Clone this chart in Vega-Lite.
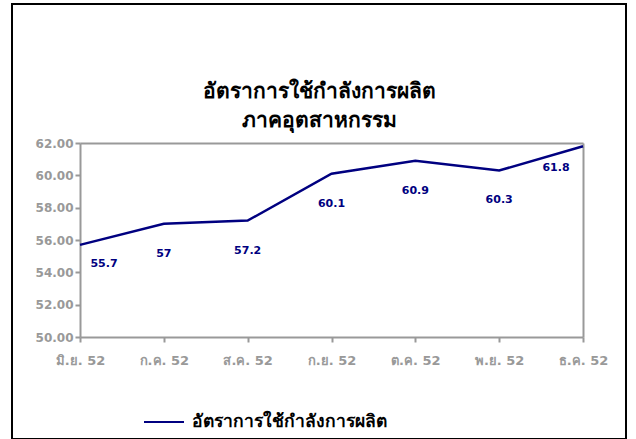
{
  "$schema": "https://vega.github.io/schema/vega-lite/v6.json",
  "width": 614,
  "height": 435,
  "autosize": {"type": "none"},
  "padding": {"left": 12, "top": 4, "right": 10, "bottom": 0},
  "background": "white",
  "config": {
    "view": {"stroke": "black", "strokeWidth": 2},
    "font": "DejaVu Sans",
    "axis": {
      "domainColor": "#999999",
      "domainWidth": 2,
      "tickColor": "#999999",
      "tickWidth": 2,
      "tickSize": 5,
      "labelColor": "#999999",
      "labelFont": "DejaVu Sans",
      "labelFontWeight": "bold",
      "labelFontSize": 12,
      "grid": false,
      "title": null
    }
  },
  "title": {
    "text": ["อัตราการใช้กำลังการผลิต", "ภาคอุตสาหกรรม"],
    "frame": "group",
    "anchor": "middle",
    "orient": "top",
    "offset": -127,
    "fontSize": 21,
    "fontWeight": "bold",
    "color": "black",
    "lineHeight": 29
  },
  "data": {
    "values": [
      {"month": "มิ.ย. 52", "value": 55.7, "series": "อัตราการใช้กำลังการผลิต"},
      {"month": "ก.ค. 52", "value": 57, "series": "อัตราการใช้กำลังการผลิต"},
      {"month": "ส.ค. 52", "value": 57.2, "series": "อัตราการใช้กำลังการผลิต"},
      {"month": "ก.ย. 52", "value": 60.1, "series": "อัตราการใช้กำลังการผลิต"},
      {"month": "ต.ค. 52", "value": 60.9, "series": "อัตราการใช้กำลังการผลิต"},
      {"month": "พ.ย. 52", "value": 60.3, "series": "อัตราการใช้กำลังการผลิต"},
      {"month": "ธ.ค. 52", "value": 61.8, "series": "อัตราการใช้กำลังการผลิต"}
    ]
  },
  "resolve": {"axis": {"x": "independent", "y": "independent"}},
  "layer": [
    {
      "mark": {"type": "point", "opacity": 0},
      "encoding": {
        "x": {
          "field": "month",
          "type": "ordinal",
          "sort": null,
          "scale": {
            "type": "point",
            "padding": 0,
            "range": [68, 571],
            "domain": ["มิ.ย. 52", "ก.ค. 52", "ส.ค. 52", "ก.ย. 52", "ต.ค. 52", "พ.ย. 52", "ธ.ค. 52"]
          },
          "axis": {"orient": "top", "offset": -139, "labels": false, "ticks": false}
        },
        "y": {
          "field": "value",
          "type": "quantitative",
          "scale": {"domain": [50, 62], "range": [333, 139], "nice": false, "zero": false},
          "axis": {"orient": "right", "offset": -43, "labels": false, "ticks": false}
        }
      }
    },
    {
      "mark": {"type": "line", "strokeWidth": 2.5},
      "encoding": {
        "x": {
          "field": "month",
          "type": "ordinal",
          "sort": null,
          "axis": {"labelAngle": 0, "offset": -102, "labelPadding": 12, "labelFontSize": 13}
        },
        "y": {
          "field": "value",
          "type": "quantitative",
          "axis": {"values": [50, 52, 54, 56, 58, 60, 62], "format": ".2f", "offset": -68, "labelPadding": 2}
        },
        "color": {
          "field": "series",
          "type": "nominal",
          "scale": {"range": ["#000080"]},
          "legend": {
            "title": null,
            "orient": "none",
            "legendX": 131,
            "legendY": 397,
            "symbolType": "stroke",
            "symbolSize": 1600,
            "symbolStrokeWidth": 2,
            "labelFontSize": 17.5,
            "labelFontWeight": "bold",
            "labelColor": "black",
            "labelLimit": 400,
            "labelOffset": 7
          }
        }
      }
    },
    {
      "transform": [{"filter": "datum.month != 'มิ.ย. 52' && datum.month != 'ธ.ค. 52'"}],
      "mark": {"type": "text", "dy": 30, "fontSize": 11, "fontWeight": "bold", "color": "#000080"},
      "encoding": {
        "x": {"field": "month", "type": "ordinal", "sort": null, "axis": null},
        "y": {"field": "value", "type": "quantitative", "axis": null},
        "text": {"field": "value", "type": "quantitative"}
      }
    },
    {
      "transform": [{"filter": "datum.month == 'มิ.ย. 52'"}],
      "mark": {"type": "text", "dy": 19, "dx": 24, "fontSize": 11, "fontWeight": "bold", "color": "#000080"},
      "encoding": {
        "x": {"field": "month", "type": "ordinal", "sort": null, "axis": null},
        "y": {"field": "value", "type": "quantitative", "axis": null},
        "text": {"field": "value", "type": "quantitative"}
      }
    },
    {
      "transform": [{"filter": "datum.month == 'ธ.ค. 52'"}],
      "mark": {"type": "text", "dy": 22, "dx": -27, "fontSize": 11, "fontWeight": "bold", "color": "#000080"},
      "encoding": {
        "x": {"field": "month", "type": "ordinal", "sort": null, "axis": null},
        "y": {"field": "value", "type": "quantitative", "axis": null},
        "text": {"field": "value", "type": "quantitative"}
      }
    }
  ]
}
